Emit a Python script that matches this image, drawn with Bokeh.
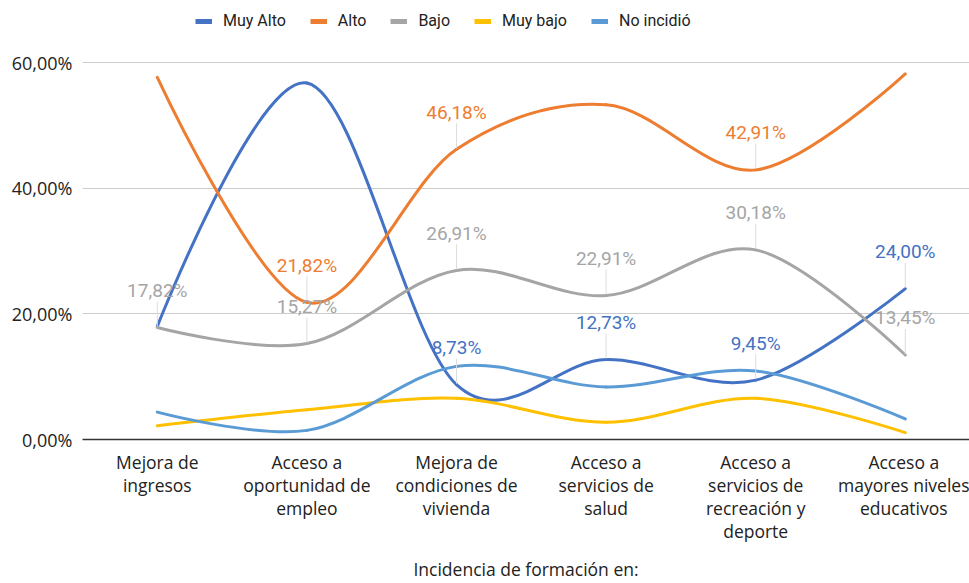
from bokeh.plotting import figure
from bokeh.models import Range1d, FixedTicker, Legend, LegendItem, ColumnDataSource
from bokeh.core.properties import value
from bokeh.embed import file_html
from bokeh.resources import INLINE

# ---------------- data ----------------
categories = [
    "Mejora de\ningresos",
    "Acceso a\noportunidad de\nempleo",
    "Mejora de\ncondiciones de\nvivienda",
    "Acceso a\nservicios de\nsalud",
    "Acceso a\nservicios de\nrecreación y\ndeporte",
    "Acceso a\nmayores niveles\neducativos",
]
series_names = ["Muy Alto", "Alto", "Bajo", "Muy bajo", "No incidió"]
muy_alto = [18.00, 56.73, 8.73, 12.73, 9.45, 24.00]
alto = [57.64, 21.82, 46.18, 53.27, 42.91, 58.18]
bajo = [17.82, 15.27, 26.91, 22.91, 30.18, 13.45]
muy_bajo = [2.18, 4.73, 6.55, 2.73, 6.55, 1.09]
no_incidio = [4.36, 1.45, 11.64, 8.36, 10.91, 3.27]
# which points carry a data label (index into categories)
labeled_points = {
    "Muy Alto": [2, 3, 4, 5],
    "Alto": [1, 2, 4],
    "Bajo": [0, 1, 2, 3, 4, 5],
    "Muy bajo": [],
    "No incidió": [],
}
y_ticks = [0, 20, 40, 60]
y_tick_labels = ["0,00%", "20,00%", "40,00%", "60,00%"]
x_title = "Incidencia de formación en:"

colors = ["#4472C4", "#ED7D31", "#A5A5A5", "#FFC000", "#5B9BD5"]
series_values = [muy_alto, alto, bajo, muy_bajo, no_incidio]

# ---------------- layout ----------------
W, H = 969, 583
LEFT, BOTTOM = 82, 144
TOP_GAP = 62                 # space above the 60% gridline (legend lives here)
frame_h = H - BOTTOM
px_per_unit = (frame_h - TOP_GAP) / 60.0
y_end = 60 + TOP_GAP / px_per_unit
x_end = 0.5 + (W - LEFT) / 149.6

p = figure(width=W, height=H,
           x_range=Range1d(0.5, x_end), y_range=Range1d(0, y_end),
           output_backend="svg", toolbar_location=None,
           min_border_left=LEFT, min_border_right=0,
           min_border_top=0, min_border_bottom=BOTTOM)
p.outline_line_color = None
p.background_fill_color = "white"
p.border_fill_color = "white"
p.xgrid.grid_line_color = None
p.ygrid.grid_line_color = "#cccccc"
p.ygrid.grid_line_width = 1

xs = list(range(1, len(categories) + 1))


def bezier_source(ys):
    n = len(ys)
    d = dict(x0=[], y0=[], x1=[], y1=[], cx0=[], cy0=[], cx1=[], cy1=[])
    for i in range(n - 1):
        if i == 0:
            c0x, c0y = xs[0], ys[0]
        else:
            c0x = xs[i] + (xs[i + 1] - xs[i - 1]) / 6.0
            c0y = ys[i] + (ys[i + 1] - ys[i - 1]) / 6.0
        if i + 1 == n - 1:
            c1x, c1y = xs[n - 1], ys[n - 1]
        else:
            c1x = xs[i + 1] - (xs[i + 2] - xs[i]) / 6.0
            c1y = ys[i + 1] - (ys[i + 2] - ys[i]) / 6.0
        d["x0"].append(xs[i]); d["y0"].append(ys[i])
        d["x1"].append(xs[i + 1]); d["y1"].append(ys[i + 1])
        d["cx0"].append(c0x); d["cy0"].append(c0y)
        d["cx1"].append(c1x); d["cy1"].append(c1y)
    return ColumnDataSource(d)


legend_items = []
for name, vals, col in zip(series_names, series_values, colors):
    src = bezier_source(vals)
    p.bezier(x0="x0", y0="y0", x1="x1", y1="y1", cx0="cx0", cy0="cy0",
             cx1="cx1", cy1="cy1", source=src, line_color=col,
             line_width=3, line_cap="round")
    # single-point line: draws nothing in the plot, only a swatch in the legend
    swatch = p.line(x=[xs[0]], y=[vals[0]], line_color=col, line_width=5,
                    line_cap="butt")
    legend_items.append(LegendItem(label=name, renderers=[swatch]))

# leader lines + data labels
lead_lo = 1.0 / px_per_unit
lead_hi = 26.0 / px_per_unit
for name, vals, col in zip(series_names, series_values, colors):
    idx = labeled_points[name]
    if not idx:
        continue
    lx = [xs[i] for i in idx]
    ly = [vals[i] for i in idx]
    p.segment(x0=lx, y0=[v + lead_lo for v in ly], x1=lx,
              y1=[v + lead_hi for v in ly], line_color="#dddddd", line_width=1)
for name, vals, col in zip(series_names, series_values, colors):
    idx = labeled_points[name]
    if not idx:
        continue
    lx = [xs[i] for i in idx]
    ly = [vals[i] for i in idx]
    lt = [("%.2f" % vals[i]).replace(".", ",") + "%" for i in idx]
    p.text(x=lx, y=ly, text=lt, y_offset=-37, text_align="center",
           text_baseline="middle", text_font=value("Roboto"),
           text_font_size="19px", text_color=col)

# axes
p.yaxis.ticker = FixedTicker(ticks=y_ticks)
p.yaxis.major_label_overrides = {t: l for t, l in zip(y_ticks, y_tick_labels)}
p.yaxis.axis_line_color = None
p.yaxis.major_tick_line_color = None
p.yaxis.minor_tick_line_color = None
p.yaxis.major_tick_out = 0
p.yaxis.major_tick_in = 0
p.yaxis.major_label_standoff = 10
p.yaxis.major_label_text_font = "Open Sans"
p.yaxis.major_label_text_font_size = "18px"
p.yaxis.major_label_text_color = "#222222"

p.xaxis.ticker = FixedTicker(ticks=xs)
p.xaxis.major_label_overrides = {x: c for x, c in zip(xs, categories)}
p.xaxis.axis_line_color = "#333333"
p.xaxis.axis_line_width = 1.5
p.xaxis.major_tick_line_color = None
p.xaxis.minor_tick_line_color = None
p.xaxis.major_tick_out = 0
p.xaxis.major_tick_in = 0
p.xaxis.major_label_standoff = 10
p.xaxis.major_label_text_font = "Open Sans"
p.xaxis.major_label_text_font_size = "17.5px"
p.xaxis.major_label_text_line_height = 0.96
p.xaxis.major_label_text_color = "#222222"
p.xaxis.axis_label = x_title
p.xaxis.axis_label_text_font = "Open Sans"
p.xaxis.axis_label_text_font_size = "17.5px"
p.xaxis.axis_label_text_font_style = "normal"
p.xaxis.axis_label_text_color = "#222222"
p.xaxis.axis_label_standoff = 11

legend = Legend(items=legend_items, location=(113, frame_h - 30),
                orientation="horizontal",
                label_text_font="Roboto", label_text_font_size="16px",
                label_text_color="#222222", label_standoff=11,
                glyph_width=17, glyph_height=16, spacing=24, padding=0,
                margin=0, border_line_alpha=0, background_fill_alpha=0)
p.add_layout(legend, "center")

open("out.html", "w").write(file_html(p, INLINE))
